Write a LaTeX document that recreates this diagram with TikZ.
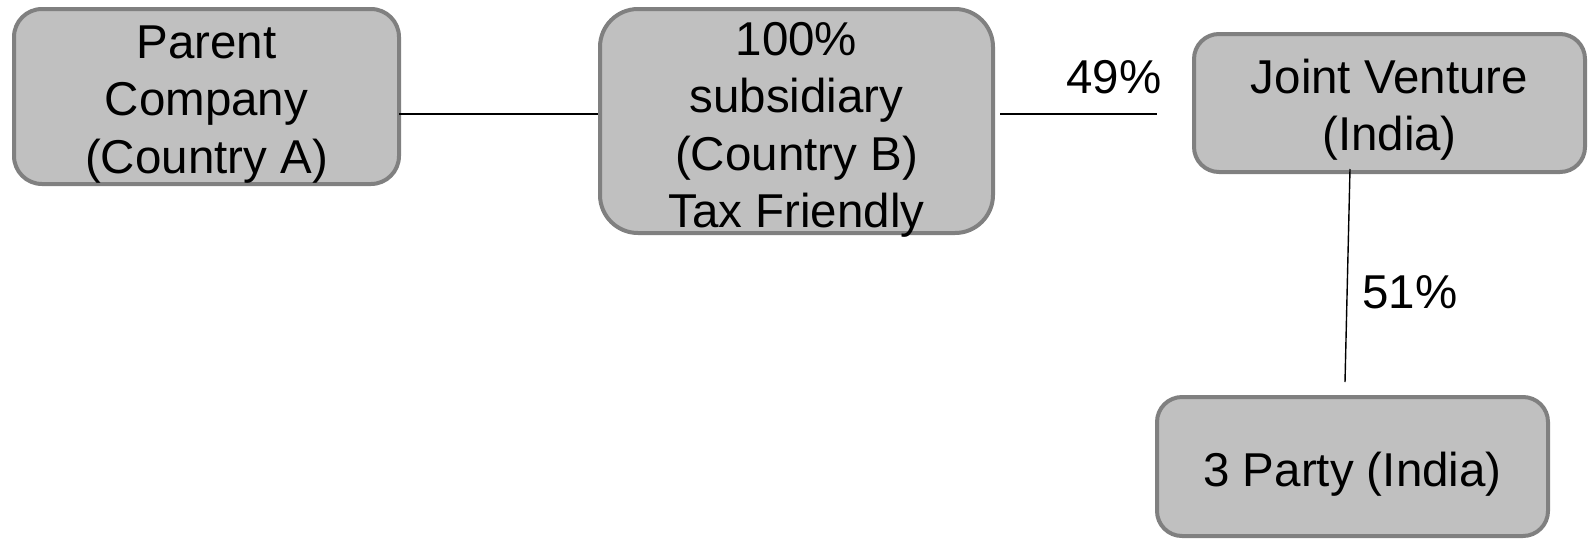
\documentclass[tikz,border=0pt]{standalone}
\usepackage{fontspec}
\setmainfont{Liberation Sans}
\definecolor{boxfill}{HTML}{C0C0C0}
\definecolor{boxline}{HTML}{808080}
\tikzset{
  entity/.style={draw=boxline, fill=boxfill, line width=4pt, inner sep=0pt, rectangle},
  lbl/.style={inner sep=0pt, anchor=base, font=\fontsize{47.5}{57.5}\selectfont},
  link/.style={draw=black, line width=1.4pt}
}
\begin{document}
\begin{tikzpicture}[x=1pt, y=-1pt]
\useasboundingbox (0,0) rectangle (1588,539);
% boxes
\node[entity, rounded corners=28pt, minimum width=385pt, minimum height=175pt] (b1) at (206.5,96.5) {};
\node[entity, rounded corners=38pt, minimum width=393pt, minimum height=224pt] (b2) at (796.5,121) {};
\node[entity, rounded corners=25pt, minimum width=391pt, minimum height=138pt] (b3) at (1389.5,103) {};
\node[entity, rounded corners=25pt, minimum width=391pt, minimum height=139pt] (b4) at (1352.5,466.5) {};
% texts
\node[lbl] (t1) at (206.5,58) {\begin{tabular}[t]{@{}c@{}}Parent\\Company\\(Country A)\end{tabular}};
\node[lbl] (t2) at (796.5,55) {\begin{tabular}[t]{@{}c@{}}100\%\\subsidiary\\(Country B)\\Tax Friendly\end{tabular}};
\node[lbl] (t3) at (1389.5,93) {\begin{tabular}[t]{@{}c@{}}Joint Venture\\(India)\end{tabular}};
\node[lbl] (t4) at (1352.5,486) {3 Party (India)};
% connectors
\coordinate (c2e) at (1157,114);
\coordinate (c3s) at (1350,169);
\coordinate (c3e) at (1345,382);
\draw[link] ([xshift=-2pt]b1.east |- 0,114) -- (b2.west |- 0,114);
\draw[link] ([xshift=5pt]b2.east |- 0,114) -- (c2e);
\draw[link] (c3s) -- (c3e);
% percentages
\node[lbl] (p49) at (1114,93) {49\%};
\node[lbl] (p51) at (1410,308) {51\%};
\end{tikzpicture}
\end{document}
